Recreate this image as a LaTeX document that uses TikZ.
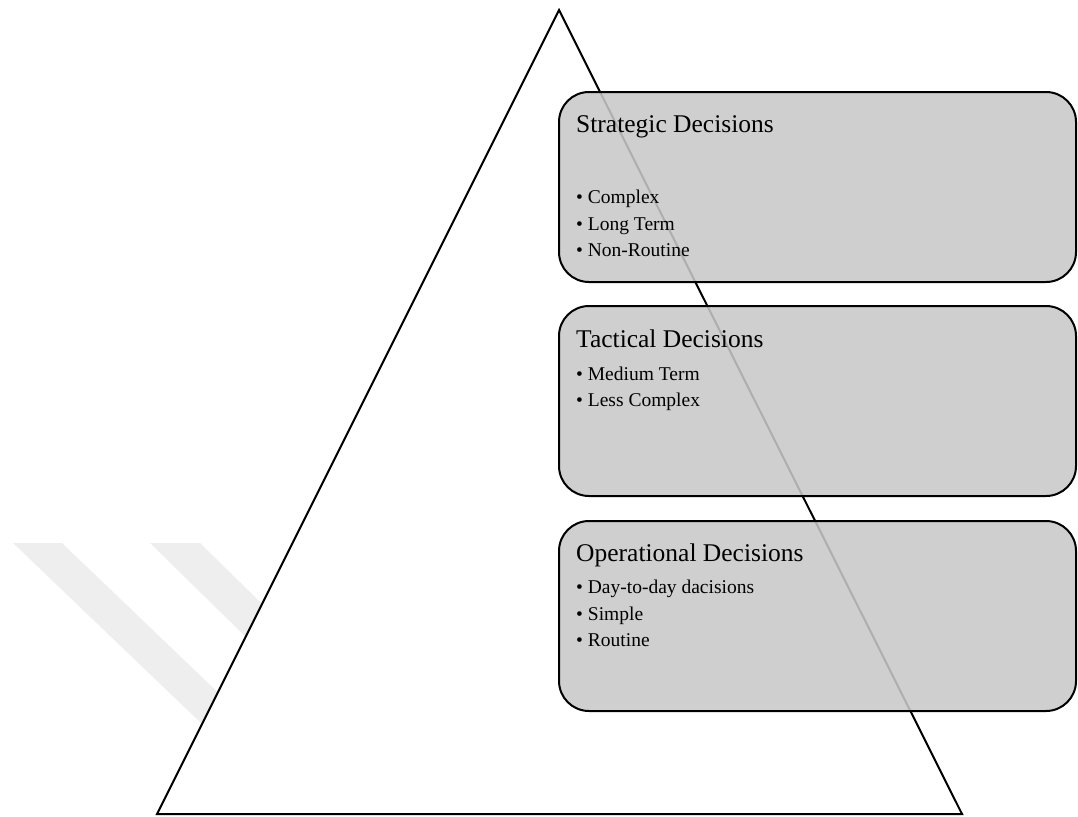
\documentclass[tikz,border=0pt]{standalone}
\usepackage{fontspec}
\setmainfont{Liberation Serif}
\definecolor{boxgray}{RGB}{200,200,200}
\definecolor{wmgray}{RGB}{238,238,238}
\begin{document}
\begin{tikzpicture}[x=1pt,y=-1pt,
  decbox/.style={draw=black, line width=2pt, fill=boxgray, fill opacity=0.87,
    rounded corners=30pt, rectangle, minimum width=517pt, minimum height=190pt,
    anchor=north west, inner sep=0pt, outer sep=0pt},
  titletext/.style={anchor=base west, inner sep=0pt, font=\fontsize{25.5}{30}\selectfont},
  itemtext/.style={anchor=base west, inner sep=0pt, font=\fontsize{19.5}{24}\selectfont},
  tri/.style={draw=black, line width=2pt, fill=white, line join=miter},
  wm/.style={fill=wmgray, draw=none}]
\useasboundingbox (0,0) rectangle (1078,816);
% faint watermark stripes
\fill[wm] (13,543) -- (62,543) -- (300,771) -- (251,771) -- cycle;
\fill[wm] (150,543) -- (200,543) -- (360,700) -- (310,700) -- cycle;
% pyramid
\coordinate (apex) at (559,10);
\coordinate (bl) at (157,814);
\coordinate (br) at (962,814);
\draw[tri] (apex) -- (br) -- (bl) -- cycle;
% boxes
\node[decbox] (s) at (559,92) {};
\node[decbox] (t) at (559,306) {};
\node[decbox] (o) at (559,521) {};
% texts
\node[titletext] (st) at (576,132) {Strategic Decisions};
\node[itemtext] (s1) at (576,203) {• Complex};
\node[itemtext] (s2) at (576,230) {• Long Term};
\node[itemtext] (s3) at (576,256) {• Non-Routine};
\node[titletext] (tt) at (576,347) {Tactical Decisions};
\node[itemtext] (t1) at (576,380) {• Medium Term};
\node[itemtext] (t2) at (576,406) {• Less Complex};
\node[titletext] (ot) at (576,561) {Operational Decisions};
\node[itemtext] (o1) at (576,593) {• Day-to-day dacisions};
\node[itemtext] (o2) at (576,620) {• Simple};
\node[itemtext] (o3) at (576,646) {• Routine};
\end{tikzpicture}
\end{document}
